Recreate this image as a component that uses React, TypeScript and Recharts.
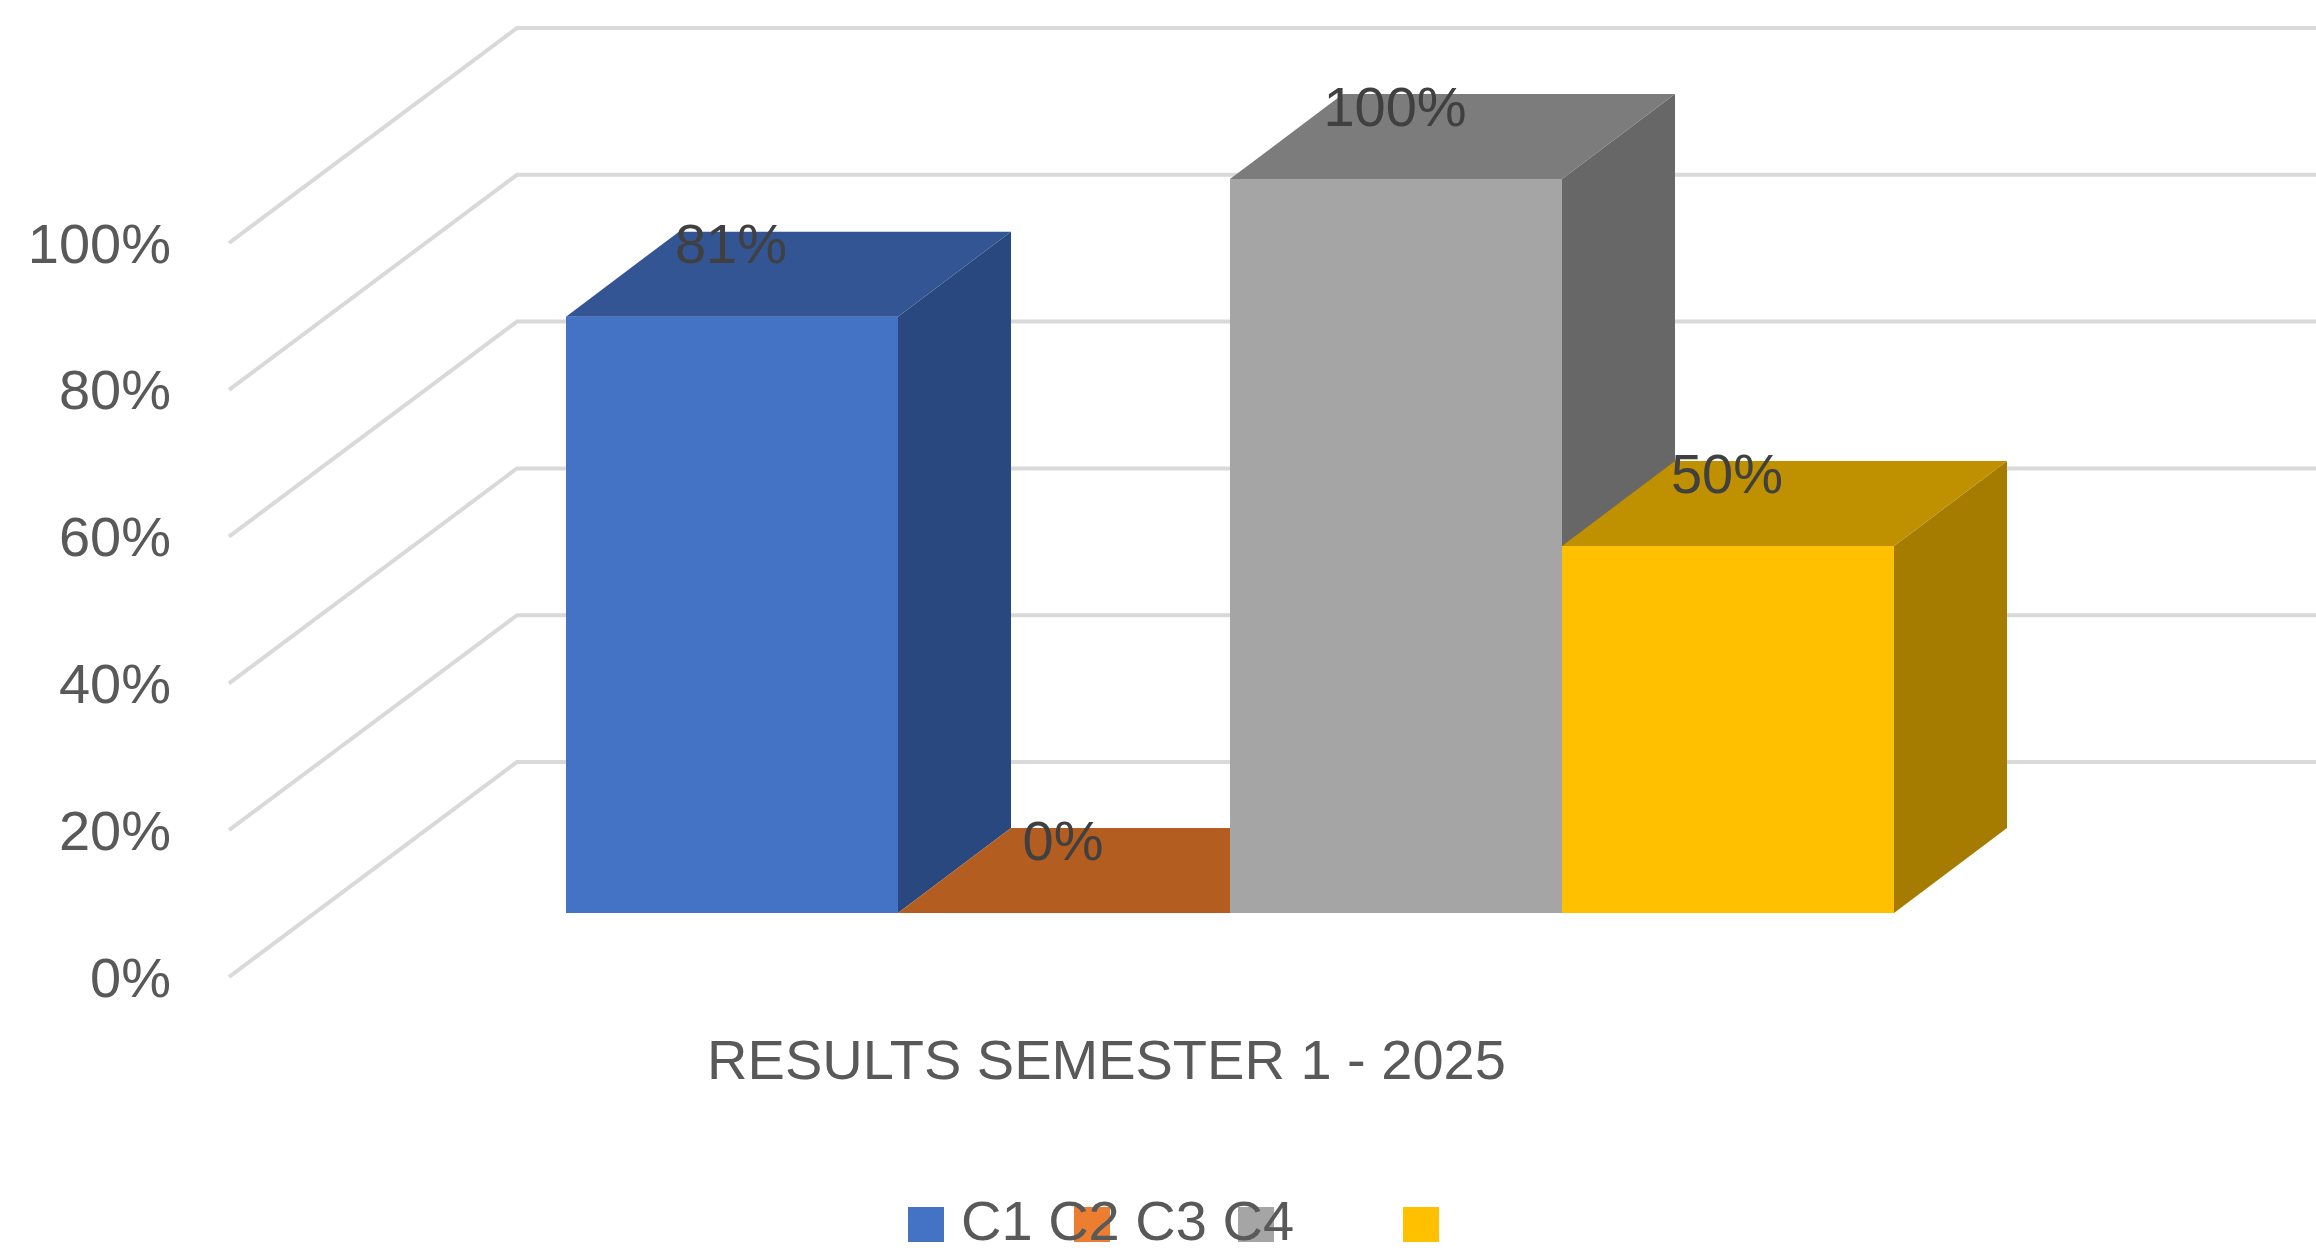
// App.tsx
import React from 'react';
import { BarChart, Bar, XAxis, YAxis, CartesianGrid, Legend, LabelList } from 'recharts';

// Chart data
const categories = ['RESULTS SEMESTER 1 - 2025'];
const seriesNames = ['C1', 'C2', 'C3', 'C4'];
const c1Values = [0.8125];
const c2Values = [0];
const c3Values = [1];
const c4Values = [0.5];
const yTicks = [0, 0.2, 0.4, 0.6, 0.8, 1];

const rows = categories.map((term, i) => ({
  term,
  C1: c1Values[i],
  C2: c2Values[i],
  C3: c3Values[i],
  C4: c4Values[i],
}));

// Colours per series
const frontColors = ['#4472C4', '#ED7D31', '#A5A5A5', '#FFC000'];
const topColors = ['#335593', '#B35D20', '#7C7C7C', '#BF9000'];
const sideColors = ['#2A4880', '#9E5020', '#676767', '#A67C00'];
const faceColors = ['#4472C4', '#B35D20', '#A5A5A5', '#FFC000'];

const FONT = '"Liberation Sans", Arial, sans-serif';

// Depth of a 3D column
const BAR_DX = 113;
const BAR_DY = 85;
// The wall sits behind the columns, the tick labels in front of them
const WALL_X_FRONT = 229;
const WALL_X_BACK = 517;
const WALL_Y_FRONT = 64;
const WALL_Y_BACK = -151;

const make3dBar = (index: number) => (props: any) => {
  const { x, y, width, height } = props;
  const top = `M${x},${y} L${x + BAR_DX},${y - BAR_DY} L${x + width + BAR_DX},${y - BAR_DY} L${x + width},${y} Z`;
  const side = `M${x + width},${y} L${x + width + BAR_DX},${y - BAR_DY} L${x + width + BAR_DX},${y + height - BAR_DY} L${x + width},${y + height} Z`;
  return (
    <g>
      <path d={side} fill={sideColors[index]} />
      <path d={top} fill={topColors[index]} />
      <rect x={x} y={y} width={width} height={height} fill={faceColors[index]} />
    </g>
  );
};

const renderLabel = (props: any) => {
  const { x, y, width, value } = props;
  return (
    <text
      x={x + width / 2 - 1}
      y={y - 73}
      textAnchor="middle"
      dominantBaseline="central"
      fontFamily={FONT}
      fontSize={56}
      fill="#404040"
    >
      {`${Math.round(value * 100)}%`}
    </text>
  );
};

const renderGridLine = (props: any) => {
  const { y1 } = props;
  return (
    <polyline
      key={`grid-${y1}`}
      points={`${WALL_X_FRONT},${y1 + WALL_Y_FRONT} ${WALL_X_BACK},${y1 + WALL_Y_BACK} 2316,${y1 + WALL_Y_BACK}`}
      fill="none"
      stroke="#D9D9D9"
      strokeWidth={4}
    />
  );
};

const YTick = (props: any) => (
  <text
    x={171}
    y={props.y + WALL_Y_FRONT}
    textAnchor="end"
    dominantBaseline="central"
    fontFamily={FONT}
    fontSize={56}
    fill="#595959"
  >
    {`${Math.round(props.payload.value * 100)}%`}
  </text>
);

const XTick = (props: any) => (
  <text
    x={props.x - 124}
    y={1059}
    textAnchor="middle"
    dominantBaseline="central"
    fontFamily={FONT}
    fontSize={56}
    fill="#595959"
  >
    {props.payload.value}
  </text>
);

// The legend text runs over its own markers, as in the original
const markerLefts = [908, 1074, 1238, 1403];

const renderLegend = (props: any) => {
  const items = props.payload || [];
  return (
    <div>
      {items.map((item: any, i: number) => (
        <div
          key={item.value}
          style={{
            position: 'absolute',
            left: markerLefts[i],
            top: 1207,
            width: 36,
            height: 35,
            background: item.color,
          }}
        />
      ))}
      <div
        style={{
          position: 'absolute',
          left: 961,
          top: 1189,
          fontFamily: FONT,
          fontSize: 56,
          lineHeight: '64px',
          color: '#595959',
          whiteSpace: 'nowrap',
        }}
      >
        {items.map((item: any) => item.value).join(' ')}
      </div>
    </div>
  );
};

const App: React.FC = () => {
  return (
    <div style={{ position: 'absolute', left: 0, top: 0, width: 2316, height: 1254, background: '#fff' }}>
      <BarChart
        width={2316}
        height={1254}
        data={rows}
        margin={{ top: 179, right: 421, bottom: 0, left: 0 }}
        barGap={0}
        barCategoryGap={0}
      >
        <CartesianGrid vertical={false} horizontal={renderGridLine} />
        <XAxis
          dataKey="term"
          height={341}
          tick={XTick}
          tickLine={false}
          axisLine={false}
        />
        <YAxis
          width={566}
          domain={[0, 1]}
          ticks={yTicks}
          tick={YTick}
          tickLine={false}
          axisLine={false}
        />
        <Legend
          content={renderLegend}
          wrapperStyle={{ left: 0, top: 0, bottom: 'auto', width: 0, height: 0 }}
        />
        {seriesNames.map((name, i) => (
          <Bar
            key={name}
            dataKey={name}
            name={name}
            fill={frontColors[i]}
            shape={make3dBar(i)}
            isAnimationActive={false}
          >
            <LabelList dataKey={name} content={renderLabel} />
          </Bar>
        ))}
      </BarChart>
    </div>
  );
};

export default App;
